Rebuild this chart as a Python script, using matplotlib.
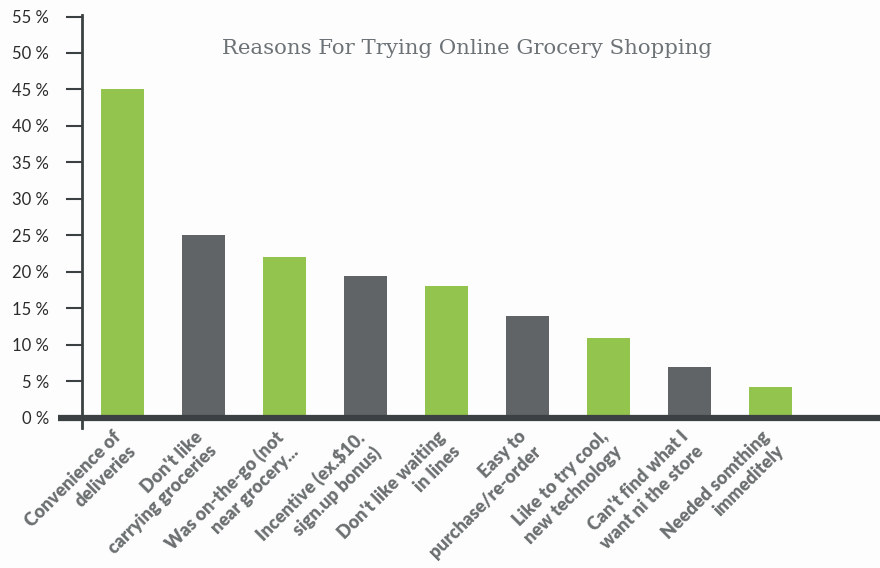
import matplotlib
matplotlib.use('Agg')
import matplotlib.pyplot as plt
import matplotlib.transforms as mtransforms

# chart data
reasons=["Convenience of\ndeliveries","Don't like\ncarrying groceries","Was on-the-go (not\nnear grocery...",
 "Incentive (ex.$10.\nsign.up bonus)","Don't like waiting\nin lines","Easy to\npurchase/re-order",
 "Like to try cool,\nnew technology","Can't find what I\nwant ni the store","Needed somthing\nimmeditely"]
percent=[45,25,22,19.5,18,14,11,7,4.2]
yticks=[0,5,10,15,20,25,30,35,40,45,50,55]
ylabels=['%d %%'%v for v in yticks]

green='#92c44e'
grey='#606466'
dark='#3b4142'
colors=[green if i%2==0 else grey for i in range(len(percent))]

fig=plt.figure(figsize=(8.8,5.68),dpi=100,facecolor='#fdfdfd')
ax=fig.add_axes([0.093,0.2465,0.907,0.727])
ax.set_facecolor('#fdfdfd')
x=list(range(len(percent)))
ax.bar(x,percent,width=0.53,color=colors,zorder=2)
ax.set_xlim(-0.5,9.35)
ax.set_ylim(-1.4,55.2)
for s in ['top','right','bottom']:
 ax.spines[s].set_visible(False)
ax.spines['left'].set_color(dark)
ax.spines['left'].set_linewidth(2)
ax.set_yticks(yticks)
ax.set_yticklabels(ylabels,fontfamily='Lato',fontsize=12,color='#2b2b2b')
ax.tick_params(axis='y',length=11.5,width=1.5,color=dark,pad=12)
ax.set_xticks([])
# baseline
trans=mtransforms.blended_transform_factory(ax.transAxes,ax.transData)
ax.plot([-0.03,1],[0,0],transform=trans,color=dark,lw=4.5,clip_on=False,zorder=3,solid_capstyle='butt')
for i,r in enumerate(reasons):
 ax.text(i-0.12,-1.4,r,rotation=45,rotation_mode='anchor',ha='right',va='top',multialignment='right',
  fontfamily='Lato',fontweight='heavy',fontsize=13,color='#6b6f70',linespacing=1.25)
fig.text(0.531,0.915,'Reasons For Trying Online Grocery Shopping',ha='center',va='center',
 fontfamily='DejaVu Serif',fontsize=15.3,color='#6c7275')
fig.savefig('out.png',dpi=100,facecolor=fig.get_facecolor())
